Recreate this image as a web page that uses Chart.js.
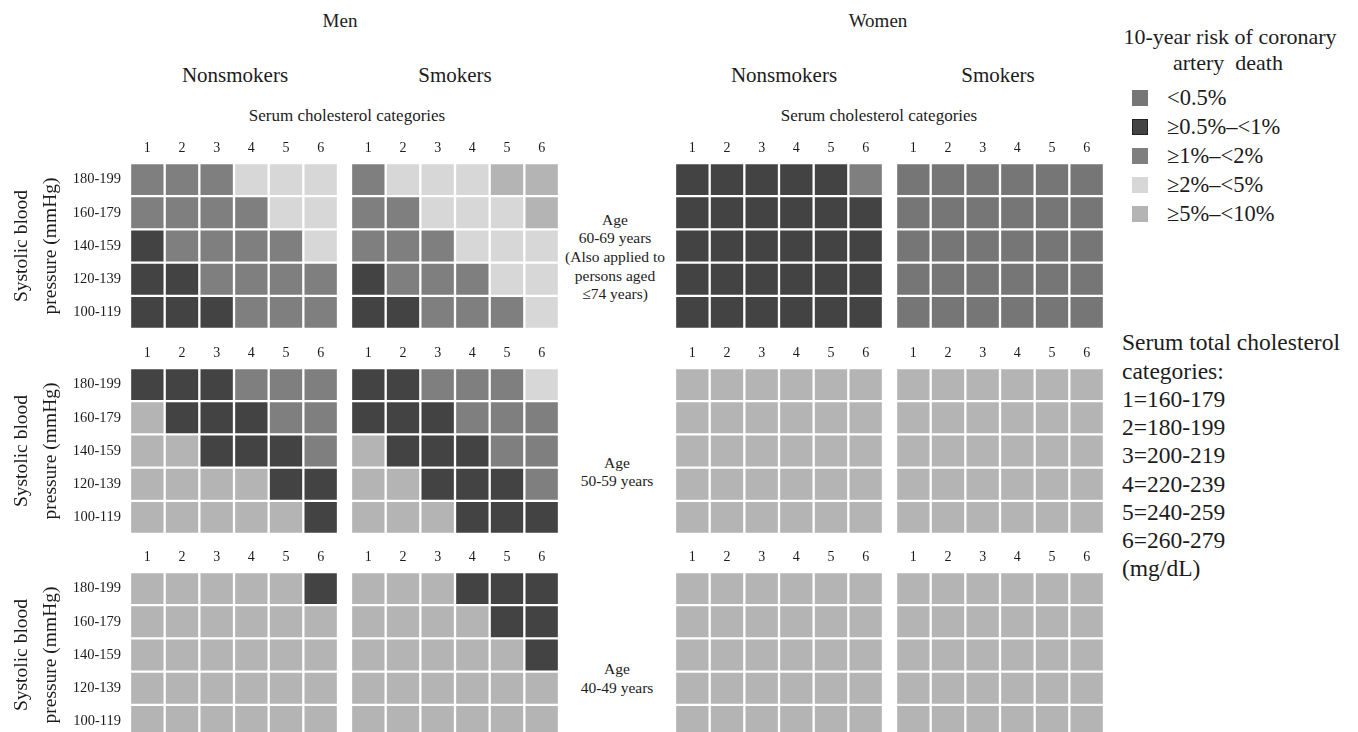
<!DOCTYPE html>
<html>
<head>
<meta charset="utf-8">
<script src="https://cdn.jsdelivr.net/npm/chart.js@4.4.1/dist/chart.umd.min.js"></script>
<style>
  html, body { margin: 0; padding: 0; background: #fff; overflow: hidden; }
  #page { position: relative; width: 1358px; height: 732px; overflow: hidden;
          font-family: "Liberation Serif", "Times New Roman", serif; color: #1c1c1c; }
  .t { position: absolute; white-space: nowrap; transform: translate(-50%, -50%); line-height: 1; text-align: center; }
  .l { position: absolute; white-space: nowrap; transform: translateY(-50%); line-height: 1; }
  .sw { position: absolute; width: 16px; height: 16px; box-sizing: border-box; }
  canvas { position: absolute; }
</style>
</head>
<body>
<div id="page"></div>
<script>
// ---- data ----
const cholesterolCategories = ['1', '2', '3', '4', '5', '6'];
const bloodPressureCategories = ['180-199', '160-179', '140-159', '120-139', '100-119'];
const riskLabels = ['<0.5%', '≥0.5%–<1%', '≥1%–<2%', '≥2%–<5%', '≥5%–<10%'];
const riskColors = ['#767676', '#434343', '#7f7f7f', '#d7d7d7', '#b4b4b4'];
const ageGroupLabels = [
  ['Age', '60-69 years', '(Also applied to', 'persons aged', '≤74 years)'],
  ['Age', '50-59 years'],
  ['Age', '40-49 years']
];
const cholesterolKey = ['1=160-179', '2=180-199', '3=200-219', '4=220-239', '5=240-259', '6=260-279', '(mg/dL)'];

// risk category (index into riskLabels) per cell; rows 180-199 down to 100-119, columns 1..6
const menNonsmokers60 = [[2,2,2,3,3,3],[2,2,2,2,3,3],[1,2,2,2,2,3],[1,1,2,2,2,2],[1,1,1,2,2,2]];
const menSmokers60    = [[2,3,3,3,4,4],[2,2,3,3,3,4],[2,2,2,3,3,3],[1,2,2,2,3,3],[1,1,2,2,2,3]];
const womenNonsmokers60 = [[1,1,1,1,1,2],[1,1,1,1,1,1],[1,1,1,1,1,1],[1,1,1,1,1,1],[1,1,1,1,1,1]];
const womenSmokers60    = [[0,0,0,0,0,0],[0,0,0,0,0,0],[0,0,0,0,0,0],[0,0,0,0,0,0],[0,0,0,0,0,0]];

const menNonsmokers50 = [[1,1,1,2,2,2],[4,1,1,1,2,2],[4,4,1,1,1,2],[4,4,4,4,1,1],[4,4,4,4,4,1]];
const menSmokers50    = [[1,1,2,2,2,3],[1,1,1,2,2,2],[4,1,1,1,2,2],[4,4,1,1,1,2],[4,4,4,1,1,1]];
const womenNonsmokers50 = [[4,4,4,4,4,4],[4,4,4,4,4,4],[4,4,4,4,4,4],[4,4,4,4,4,4],[4,4,4,4,4,4]];
const womenSmokers50    = [[4,4,4,4,4,4],[4,4,4,4,4,4],[4,4,4,4,4,4],[4,4,4,4,4,4],[4,4,4,4,4,4]];

const menNonsmokers40 = [[4,4,4,4,4,1],[4,4,4,4,4,4],[4,4,4,4,4,4],[4,4,4,4,4,4],[4,4,4,4,4,4]];
const menSmokers40    = [[4,4,4,1,1,1],[4,4,4,4,1,1],[4,4,4,4,4,1],[4,4,4,4,4,4],[4,4,4,4,4,4]];
const womenNonsmokers40 = [[4,4,4,4,4,4],[4,4,4,4,4,4],[4,4,4,4,4,4],[4,4,4,4,4,4],[4,4,4,4,4,4]];
const womenSmokers40    = [[4,4,4,4,4,4],[4,4,4,4,4,4],[4,4,4,4,4,4],[4,4,4,4,4,4],[4,4,4,4,4,4]];

// ---- layout ----
const page = document.getElementById('page');
const FONT = '"Liberation Serif", "Times New Roman", serif';
const panelLefts = [131.5, 352, 676, 897];
const panelTops = [164, 369, 573];
const gridW = 205, gridH = 163, axisH = 28, gap = 1.5;

function text(str, x, y, size, cls) {
  const d = document.createElement('div');
  d.className = cls || 't';
  d.style.left = x + 'px';
  d.style.top = y + 'px';
  d.style.fontSize = size + 'px';
  d.textContent = str;
  page.appendChild(d);
  return d;
}
function block(lines, x, y, size, lh) {
  const d = document.createElement('div');
  d.className = 't';
  d.style.left = x + 'px';
  d.style.top = y + 'px';
  d.style.fontSize = size + 'px';
  d.style.lineHeight = lh + 'px';
  d.innerHTML = lines.map(s => s.replace(/&/g, '&amp;').replace(/</g, '&lt;')).join('<br>');
  page.appendChild(d);
}

Chart.defaults.font.family = FONT;
Chart.defaults.color = '#1c1c1c';

function panel(cells, gridLeft, gridTop, withYAxis) {
  const areaLeft = gridLeft - gap, areaTop = gridTop - gap;
  const areaW = gridW + 2 * gap, areaH = gridH + 2 * gap;
  const cvLeft = withYAxis ? 0 : areaLeft;
  const cvW = Math.round(withYAxis ? areaLeft + areaW : areaW);
  const cvH = Math.round(areaH + axisH);
  const cv = document.createElement('canvas');
  cv.width = cvW; cv.height = cvH;
  cv.style.left = cvLeft + 'px';
  cv.style.top = (areaTop - axisH) + 'px';
  cv.style.width = cvW + 'px';
  cv.style.height = cvH + 'px';
  page.appendChild(cv);

  // one stacked dataset per blood-pressure row, bottom row first
  const datasets = bloodPressureCategories.map((bp, i) => ({
    label: bp,
    data: cholesterolCategories.map(() => 1),
    backgroundColor: cells[i].map(c => riskColors[c]),
    borderColor: '#ffffff',
    borderWidth: gap,
    borderSkipped: false,
    barPercentage: 1,
    categoryPercentage: 1,
    xAxisID: 'x',
    yAxisID: 'yv'
  })).reverse();

  const scales = {
    x: {
      type: 'category', position: 'top', stacked: true, offset: true,
      grid: { display: false, drawTicks: false }, border: { display: false },
      ticks: { padding: 6, font: { size: 14 }, color: '#1c1c1c', maxRotation: 0 },
      afterFit: s => { s.height = axisH; s.paddingLeft = 0; s.paddingRight = 0; }
    },
    yv: {
      type: 'linear', stacked: true, min: 0, max: bloodPressureCategories.length,
      display: false
    }
  };
  if (withYAxis) {
    scales.yc = {
      type: 'category', position: 'left', labels: bloodPressureCategories, offset: true,
      grid: { display: false, drawTicks: false }, border: { display: false },
      ticks: { padding: 9, font: { size: 14.5 }, color: '#1c1c1c' },
      title: {
        display: true, text: ['Systolic blood', 'pressure (mmHg)'],
        font: { size: 19.5, lineHeight: 1.45 }, color: '#1c1c1c', padding: { top: 8, bottom: 0 }
      },
      afterFit: s => { s.width = areaLeft; s.paddingTop = 0; s.paddingBottom = 0; }
    };
  }

  new Chart(cv, {
    type: 'bar',
    data: { labels: cholesterolCategories, datasets },
    options: {
      responsive: false,
      animation: false,
      devicePixelRatio: 1,
      layout: { padding: 0 },
      plugins: { legend: { display: false }, tooltip: { enabled: false } },
      scales
    }
  });
}

const panels = [
  [menNonsmokers60, menSmokers60, womenNonsmokers60, womenSmokers60],
  [menNonsmokers50, menSmokers50, womenNonsmokers50, womenSmokers50],
  [menNonsmokers40, menSmokers40, womenNonsmokers40, womenSmokers40]
];
panels.forEach((row, a) => row.forEach((cells, g) => panel(cells, panelLefts[g], panelTops[a], g === 0)));

// ---- headings ----
text('Men', 340, 20, 19);
text('Women', 878, 20, 19);
text('Nonsmokers', 235, 75, 21);
text('Smokers', 455, 75, 21);
text('Nonsmokers', 784, 75, 21);
text('Smokers', 998, 75, 21);
text('Serum cholesterol categories', 347, 115, 17);
text('Serum cholesterol categories', 879, 115, 17);

// ---- age labels ----
block(ageGroupLabels[0], 615, 257.5, 15.5, 18.7);
block(ageGroupLabels[1], 617, 472.5, 15.5, 18.7);
block(ageGroupLabels[2], 617, 679, 15.5, 18.7);

// ---- risk legend ----
text('10-year risk of coronary', 1230, 37, 22);
text('artery  death', 1228, 63, 22).style.whiteSpace = 'pre';
const legendY = [98, 127, 156, 185, 214];
riskLabels.forEach((lab, i) => {
  const s = document.createElement('div');
  s.className = 'sw';
  s.style.left = '1132px';
  s.style.top = (legendY[i] - 8) + 'px';
  s.style.background = riskColors[i];
  if (i === 1) s.style.border = '1px solid #222';
  page.appendChild(s);
  text(lab, 1167, legendY[i], 22.5, 'l');
});

// ---- cholesterol key ----
text('Serum total cholesterol', 1122, 343, 23.5, 'l');
text('categories:', 1122, 371.5, 23.5, 'l');
cholesterolKey.forEach((k, i) => text(k, 1122, 400 + i * 28.2, 23.5, 'l'));
</script>
</body>
</html>
